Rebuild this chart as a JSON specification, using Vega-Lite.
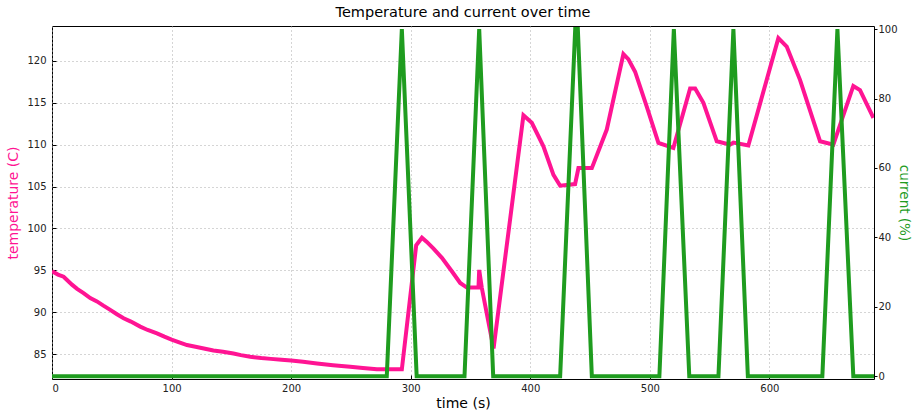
{
  "$schema": "https://vega.github.io/schema/vega-lite/v6.json",
  "width": 822,
  "height": 353,
  "autosize": {"type": "none"},
  "padding": {"left": 52, "top": 26, "right": 39, "bottom": 34},
  "title": {"text": "Temperature and current over time", "fontSize": 14.5, "font": "DejaVu Sans", "fontWeight": "normal", "color": "#000", "offset": 4},
  "config": {"view": {"stroke": "#000", "strokeWidth": 1}, "font": "DejaVu Sans"},
  "datasets": {
    "temp": [
      {"t": 0, "temp": 94.9}, {"t": 5, "temp": 94.5}, {"t": 9.7, "temp": 94.25}, {"t": 13, "temp": 93.8}, {"t": 16.7, "temp": 93.3},
      {"t": 21, "temp": 92.8}, {"t": 26.4, "temp": 92.3}, {"t": 32, "temp": 91.7}, {"t": 37.6, "temp": 91.3}, {"t": 43, "temp": 90.8},
      {"t": 48.7, "temp": 90.3}, {"t": 54, "temp": 89.8}, {"t": 59.9, "temp": 89.3}, {"t": 66, "temp": 88.9}, {"t": 73.8, "temp": 88.3},
      {"t": 80, "temp": 87.9}, {"t": 87.8, "temp": 87.5}, {"t": 94, "temp": 87.1}, {"t": 100, "temp": 86.75}, {"t": 107, "temp": 86.4},
      {"t": 112.9, "temp": 86.1}, {"t": 120, "temp": 85.9}, {"t": 128, "temp": 85.65}, {"t": 135, "temp": 85.45}, {"t": 143, "temp": 85.3},
      {"t": 151.8, "temp": 85.1}, {"t": 158, "temp": 84.9}, {"t": 165.8, "temp": 84.7}, {"t": 175, "temp": 84.55}, {"t": 183, "temp": 84.45},
      {"t": 192, "temp": 84.35}, {"t": 200, "temp": 84.25}, {"t": 210, "temp": 84.1}, {"t": 221.6, "temp": 83.9}, {"t": 235, "temp": 83.7},
      {"t": 249.4, "temp": 83.5}, {"t": 260, "temp": 83.35}, {"t": 271.7, "temp": 83.2}, {"t": 292.6, "temp": 83.2},
      {"t": 304.6, "temp": 98.0}, {"t": 309.4, "temp": 98.9}, {"t": 313.5, "temp": 98.4}, {"t": 319.1, "temp": 97.6}, {"t": 326.1, "temp": 96.5},
      {"t": 334.4, "temp": 94.9}, {"t": 341.4, "temp": 93.5}, {"t": 347, "temp": 92.95}, {"t": 356.7, "temp": 92.95}, {"t": 357.3, "temp": 95.06},
      {"t": 359.5, "temp": 92.9}, {"t": 369.3, "temp": 85.7}, {"t": 394.3, "temp": 113.5}, {"t": 401.3, "temp": 112.6},
      {"t": 411, "temp": 109.8}, {"t": 419.4, "temp": 106.4}, {"t": 425, "temp": 105.1}, {"t": 437.5, "temp": 105.3}, {"t": 440.3, "temp": 107.2},
      {"t": 451.5, "temp": 107.2}, {"t": 464, "temp": 111.8}, {"t": 477.9, "temp": 120.8}, {"t": 482, "temp": 120.2}, {"t": 487.7, "temp": 118.7},
      {"t": 497.5, "temp": 114.5}, {"t": 507.2, "temp": 110.2}, {"t": 519.7, "temp": 109.6}, {"t": 533.7, "temp": 116.7}, {"t": 537.9, "temp": 116.7},
      {"t": 544.8, "temp": 115}, {"t": 556, "temp": 110.4}, {"t": 567.1, "temp": 110.0}, {"t": 569.9, "temp": 110.25}, {"t": 582.4, "temp": 109.9},
      {"t": 607.5, "temp": 122.7}, {"t": 614.5, "temp": 121.7}, {"t": 625.7, "temp": 117.7}, {"t": 642.4, "temp": 110.4}, {"t": 653.5, "temp": 110.0},
      {"t": 670.2, "temp": 117.0}, {"t": 675.8, "temp": 116.5}, {"t": 687, "temp": 113.2}
    ],
    "cur": [
      {"t": 0, "cur": 0}, {"t": 280, "cur": 0}, {"t": 292.6, "cur": 100}, {"t": 305, "cur": 0},
      {"t": 345, "cur": 0}, {"t": 357.3, "cur": 100}, {"t": 369, "cur": 0},
      {"t": 425, "cur": 0}, {"t": 437.6, "cur": 100}, {"t": 439.8, "cur": 100}, {"t": 451.5, "cur": 0},
      {"t": 508, "cur": 0}, {"t": 520.1, "cur": 100}, {"t": 533, "cur": 0},
      {"t": 557.4, "cur": 0}, {"t": 569.9, "cur": 100}, {"t": 582, "cur": 0},
      {"t": 644.3, "cur": 0}, {"t": 656.9, "cur": 100}, {"t": 670.2, "cur": 0}, {"t": 688, "cur": 0}
    ]
  },
  "layer": [
    {
      "data": {"name": "temp"},
      "mark": {"type": "line", "color": "#ff1493", "strokeWidth": 4, "clip": true},
      "encoding": {
        "x": {"field": "t", "type": "quantitative",
          "scale": {"domain": [0, 687.5], "nice": false, "zero": false},
          "axis": {"title": "time (s)", "titleFontSize": 14, "titleFontWeight": "normal", "titleColor": "#000", "titlePadding": 3,
            "values": [0, 100, 200, 300, 400, 500, 600], "labelFontSize": 10, "labelColor": "#222", "tickSize": -4, "tickColor": "#000",
            "labelPadding": 8, "domain": false, "grid": true, "gridColor": "#aaa", "gridDash": [1, 3], "gridWidth": 1}},
        "y": {"field": "temp", "type": "quantitative",
          "scale": {"domain": [82.05, 124.15], "nice": false, "zero": false},
          "axis": {"title": "temperature (C)", "titleFontSize": 14, "titleFontWeight": "normal", "titleColor": "#ff1493", "titlePadding": 6,
            "values": [85, 90, 95, 100, 105, 110, 115, 120], "labelFontSize": 10, "labelColor": "#222", "tickSize": -4, "tickColor": "#000",
            "labelPadding": 10, "domain": false, "grid": true, "gridColor": "#aaa", "gridDash": [1, 3], "gridWidth": 1}}
      }
    },
    {
      "data": {"name": "cur"},
      "mark": {"type": "line", "color": "#1f9c1f", "strokeWidth": 4, "clip": true},
      "encoding": {
        "x": {"field": "t", "type": "quantitative"},
        "y": {"field": "cur", "type": "quantitative",
          "scale": {"domain": [-0.8, 100.9], "nice": false, "zero": false},
          "axis": {"orient": "right", "title": "current (%)", "titleFontSize": 13.5, "titleFontWeight": "normal", "titleColor": "#1f9c1f", "titlePadding": -1,
            "values": [0, 20, 40, 60, 80, 100], "labelFontSize": 10, "labelColor": "#222", "tickSize": 3, "tickColor": "#000",
            "labelPadding": 1, "domain": false, "grid": false}}
      }
    }
  ],
  "resolve": {"scale": {"y": "independent"}}
}
